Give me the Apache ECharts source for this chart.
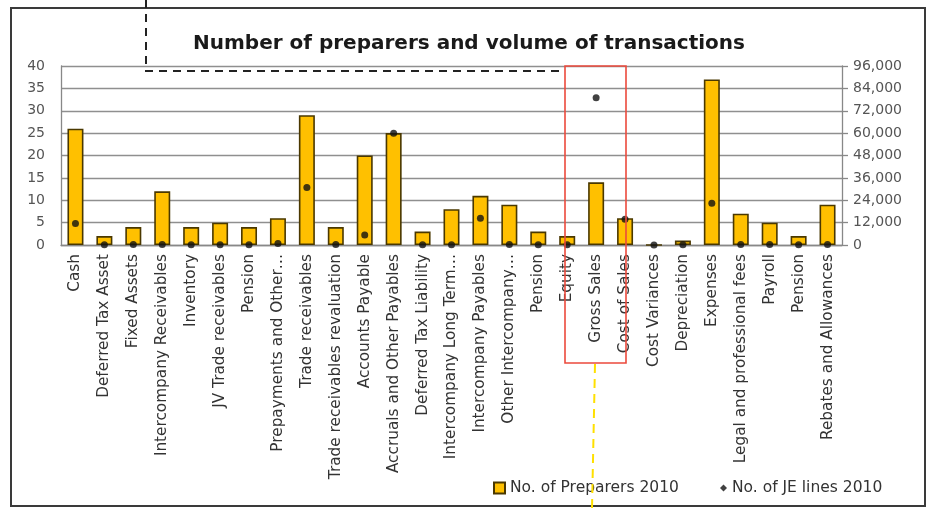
<!DOCTYPE html>
<html>
<head>
<meta charset="utf-8">
<title>Number of preparers and volume of transactions</title>
<script src="https://cdn.jsdelivr.net/npm/echarts@6/dist/echarts.min.js"></script>
<style>
  html, body { margin: 0; padding: 0; background: #ffffff; }
  #chart { width: 931px; height: 508px; }
</style>
</head>
<body>
<div id="chart"></div>
<script>
// Account categories along the x axis
const categories = [
  'Cash', 'Deferred Tax Asset', 'Fixed Assets', 'Intercompany Receivables',
  'Inventory', 'JV Trade receivables', 'Pension', 'Prepayments and Other…',
  'Trade receivables', 'Trade receivables revaluation', 'Accounts Payable',
  'Accruals and Other Payables', 'Deferred Tax Liability', 'Intercompany Long Term…',
  'Intercompany Payables', 'Other Intercompany…', 'Pension', 'Equity',
  'Gross Sales', 'Cost of Sales', 'Cost Variances', 'Depreciation', 'Expenses',
  'Legal and professional fees', 'Payroll', 'Pension', 'Rebates and Allowances'
];

// Number of preparers per account (left axis)
const preparers2010 = [
  26, 2, 4, 12, 4, 5, 4, 6, 29, 4, 20, 25, 3, 8, 11, 9, 3, 2,
  14, 6, 0, 1, 37, 7, 5, 2, 9
];

// Journal entry lines per account (right axis)
const jeLines2010 = [
  11500, 200, 300, 300, 200, 200, 200, 800, 30900, 300, 5400, 59900, 200, 200,
  14300, 300, 200, 100, 79000, 13800, 0, 200, 22400, 300, 300, 200, 300
];

// Axis tick settings
const leftTicks = { min: 0, max: 40, interval: 5 };
const rightTicks = { min: 0, max: 96000, interval: 12000 };

const seriesNames = ['No. of Preparers 2010', 'No. of JE lines 2010'];

const chart = echarts.init(document.getElementById('chart'), null, { renderer: 'canvas' });

const axisFont = { fontFamily: 'DejaVu Sans', fontSize: 14, color: '#555' };
const legendFont = { fontFamily: 'DejaVu Sans', fontSize: 15.5, color: '#333' };

chart.setOption({
  animation: false,
  backgroundColor: '#ffffff',
  title: {
    text: 'Number of preparers and volume of transactions',
    left: 464,
    textAlign: 'center',
    top: 29,
    textStyle: { fontFamily: 'DejaVu Sans', fontWeight: 'bold', fontSize: 20, color: '#1a1a1a' }
  },
  legend: [
    {
      data: [seriesNames[0]],
      left: 493, top: 480, padding: 0,
      itemWidth: 11, itemHeight: 11,
      icon: 'rect',
      textStyle: legendFont
    },
    {
      data: [seriesNames[1]],
      left: 720, top: 480, padding: 0,
      itemWidth: 7, itemHeight: 7,
      icon: 'diamond',
      textStyle: legendFont
    }
  ],
  grid: { left: 61, right: 89, top: 66, bottom: 263, containLabel: false },
  xAxis: {
    type: 'category',
    data: categories,
    axisLine: { lineStyle: { color: '#888', width: 1.3 } },
    axisTick: { show: false },
    axisLabel: {
      interval: 0, rotate: 90, margin: 9,
      fontFamily: 'DejaVu Sans', fontSize: 15.3, color: '#333'
    }
  },
  yAxis: [
    {
      type: 'value',
      min: leftTicks.min, max: leftTicks.max, interval: leftTicks.interval,
      axisLine: { show: true, lineStyle: { color: '#888', width: 1.3 } },
      axisTick: { show: false },
      axisLabel: Object.assign({ margin: 16 }, axisFont),
      splitLine: { lineStyle: { color: '#8f8f8f', width: 1.4 } }
    },
    {
      type: 'value',
      min: rightTicks.min, max: rightTicks.max, interval: rightTicks.interval,
      axisLine: { show: true, lineStyle: { color: '#888', width: 1.3 } },
      axisTick: { show: true, inside: false, length: 6, lineStyle: { color: '#888', width: 1.3 } },
      axisLabel: Object.assign({
        margin: 11,
        formatter: v => v.toLocaleString('en-US')
      }, axisFont),
      splitLine: { show: false }
    }
  ],
  series: [
    {
      name: seriesNames[0],
      type: 'bar',
      yAxisIndex: 0,
      data: preparers2010,
      barWidth: 16,
      itemStyle: { color: '#FFC000', borderColor: '#4a3800', borderWidth: 1.6 }
    },
    {
      name: seriesNames[1],
      type: 'scatter',
      yAxisIndex: 1,
      data: jeLines2010,
      symbol: 'circle',
      symbolSize: 7,
      itemStyle: { color: '#111' },
      z: 5
    }
  ],
  graphic: [
    // outer frame of the figure
    {
      type: 'rect', silent: true,
      shape: { x: 11, y: 8, width: 914, height: 498 },
      style: { fill: null, stroke: '#3a3a3a', lineWidth: 2 }
    },
    // dashed callout line from the top edge
    {
      type: 'polyline', silent: true,
      shape: { points: [[146, 0], [146, 71], [560, 71]] },
      style: { fill: null, stroke: '#222', lineWidth: 2, lineDash: [8, 6] }
    },
    // red highlight box around Gross Sales
    {
      type: 'rect', silent: true, z: 10,
      shape: { x: 565, y: 66, width: 61, height: 297 },
      style: { fill: null, stroke: '#ec4a3c', lineWidth: 1.6 }
    },
    // yellow dashed pointer below the highlight
    {
      type: 'line', silent: true, z: 10,
      shape: { x1: 595, y1: 364, x2: 592, y2: 508 },
      style: { stroke: '#FFE000', lineWidth: 2, lineDash: [9, 6] }
    }
  ]
});
</script>
</body>
</html>
